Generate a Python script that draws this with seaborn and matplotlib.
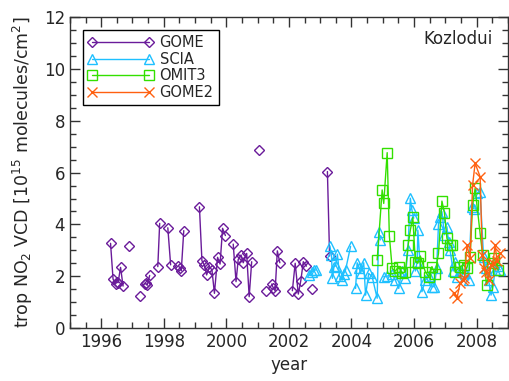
import numpy as np
import pandas as pd
import matplotlib
matplotlib.use("Agg")
import matplotlib.pyplot as plt
from matplotlib.lines import Line2D
from matplotlib.ticker import MultipleLocator
import seaborn as sns

# GOME (seg = connected piece of the line)
gome_year = [1996.30, 1996.38, 1996.46, 1996.50, 1996.54, 1996.62, 1996.70, 1996.89, 1997.23,
             1997.39, 1997.43, 1997.47, 1997.55, 1997.81, 1997.87, 1998.13, 1998.22,
             1998.47, 1998.52, 1998.56, 1998.64,
             1999.14, 1999.22, 1999.30, 1999.37, 1999.46, 1999.54, 1999.62, 1999.72, 1999.80, 1999.88, 1999.97,
             2000.22, 2000.31, 2000.38, 2000.47, 2000.54, 2000.65, 2000.73, 2000.81,
             2001.05, 2001.28, 2001.45, 2001.50, 2001.56, 2001.63, 2001.71,
             2002.11, 2002.20, 2002.30, 2002.38, 2002.46, 2002.56, 2002.73, 2003.23, 2003.30]
gome_vcd = [3.27, 1.89, 1.70, 1.78, 1.75, 2.34, 1.62, 3.17, 1.25,
            1.69, 1.72, 1.65, 2.03, 2.37, 4.04, 3.87, 2.44,
            2.41, 2.30, 2.21, 3.76,
            4.68, 2.60, 2.43, 2.05, 2.37, 2.24, 1.34, 2.73, 2.47, 3.85, 3.57,
            3.24, 1.79, 2.65, 2.82, 2.52, 2.88, 1.21, 2.56,
            6.87, 1.44, 1.70, 1.55, 1.44, 2.98, 2.52,
            1.44, 2.50, 1.31, 1.83, 2.56, 2.39, 1.49, 6.04, 2.78]
gome_seg = [1, 1, 1, 1, 1, 1, 1, 2, 3,
            4, 4, 4, 4, 5, 5, 6, 6,
            7, 7, 7, 7,
            8, 8, 8, 8, 8, 8, 8, 8, 8, 8, 8,
            9, 9, 9, 9, 9, 9, 9, 9,
            10, 11, 12, 12, 12, 12, 12,
            13, 13, 13, 13, 13, 13, 14, 15, 15]

# SCIA
scia_year = [2002.64, 2002.73, 2002.80, 2002.86,
             2003.31, 2003.36, 2003.39, 2003.44, 2003.49, 2003.55, 2003.62, 2003.70, 2003.75, 2003.81, 2003.97,
             2004.13, 2004.18, 2004.25, 2004.29, 2004.39, 2004.45, 2004.55, 2004.66, 2004.82, 2004.87, 2004.92,
             2005.03, 2005.14, 2005.30, 2005.40, 2005.51, 2005.60, 2005.72, 2005.80, 2005.88, 2005.93, 2005.99,
             2006.04, 2006.10, 2006.12, 2006.25, 2006.36, 2006.47, 2006.57, 2006.65, 2006.72, 2006.78, 2006.84,
             2006.89, 2006.97,
             2007.05, 2007.10, 2007.15, 2007.25, 2007.31, 2007.37, 2007.47, 2007.55, 2007.63, 2007.74, 2007.84,
             2007.92, 2008.00, 2008.11, 2008.22, 2008.30, 2008.38, 2008.46, 2008.52, 2008.59, 2008.67, 2008.75]
scia_vcd = [2.05, 2.17, 2.24, 2.24,
            3.17, 2.80, 1.92, 2.37, 2.40, 2.85, 2.00, 1.85, 2.10, 2.24, 3.15,
            1.53, 2.52, 2.30, 2.11, 2.52, 1.27, 2.11, 1.98, 1.15, 3.72, 3.40,
            1.98, 2.00, 2.10, 1.85, 1.53, 2.20, 1.92, 3.00, 5.01, 4.56, 4.24,
            2.20, 2.56, 3.78, 1.40, 1.85, 2.00, 1.60, 1.60, 2.30, 4.00, 4.30,
            4.49, 3.60,
            3.91, 3.33, 3.00, 2.20, 2.56, 1.98, 2.20, 2.30, 2.11, 1.85, 4.68,
            4.60, 5.20, 5.26, 2.75, 2.30, 1.85, 1.27, 1.60, 2.24, 2.40, 2.24]
scia_seg = [1, 1, 1, 1,
            2, 2, 2, 2, 2, 2, 2, 2, 2, 2, 2,
            3, 3, 3, 3, 3, 3, 3, 3, 3, 3, 3,
            4, 4, 4, 4, 4, 4, 4, 4, 4, 4, 4,
            5, 5, 5, 5, 5, 5, 5, 5, 5, 5, 5,
            5, 5,
            6, 6, 6, 6, 6, 6, 6, 6, 6, 6, 6,
            6, 7, 7, 7, 7, 7, 7, 7, 7, 7, 7]

# OMI T3
omi_year = [2004.82, 2004.98, 2005.03, 2005.14, 2005.21, 2005.30, 2005.40, 2005.51, 2005.62, 2005.72,
            2005.81, 2005.88, 2005.96, 2006.04, 2006.12, 2006.20, 2006.36, 2006.47, 2006.57, 2006.67,
            2006.78, 2006.89, 2006.97, 2007.05, 2007.15, 2007.20, 2007.31, 2007.47, 2007.58, 2007.68,
            2007.79, 2007.87, 2007.95, 2008.11, 2008.19, 2008.32, 2008.48, 2008.56, 2008.69]
omi_vcd = [2.63, 5.33, 4.81, 6.77, 3.55, 2.30, 2.20, 2.37, 2.11, 2.17,
           3.20, 3.78, 4.27, 2.56, 2.50, 2.78, 2.17, 1.98, 2.37, 2.10,
           2.88, 4.90, 4.45, 3.46, 3.20, 3.20, 2.17, 2.37, 2.43, 2.30,
           2.75, 4.75, 5.39, 3.65, 2.82, 1.66, 2.50, 2.69, 2.24]
omi_seg = [1] * len(omi_year)

# GOME-2
gome2_year = [2007.29, 2007.37, 2007.47, 2007.55, 2007.61, 2007.69, 2007.79, 2007.87, 2007.95, 2008.11,
              2008.18, 2008.24, 2008.29, 2008.38, 2008.46, 2008.52, 2008.59, 2008.65, 2008.75]
gome2_vcd = [1.34, 1.15, 1.73, 1.85, 1.92, 3.20, 2.69, 5.52, 6.36, 5.84,
             2.82, 2.30, 2.17, 1.85, 2.43, 2.50, 3.20, 2.60, 2.88]
gome2_seg = [1] * len(gome2_year)

names = ["GOME", "SCIA", "OMIT3", "GOME2"]
colors = ["#6a1b9a", "#1ec0ff", "#33e000", "#ff6010"]
markers = ["D", "^", "s", "x"]
msizes = [5.5, 7.5, 7, 7.5]

df = pd.concat([
    pd.DataFrame({"year": gome_year, "vcd": gome_vcd, "seg": gome_seg, "sensor": "GOME"}),
    pd.DataFrame({"year": scia_year, "vcd": scia_vcd, "seg": scia_seg, "sensor": "SCIA"}),
    pd.DataFrame({"year": omi_year, "vcd": omi_vcd, "seg": omi_seg, "sensor": "OMIT3"}),
    pd.DataFrame({"year": gome2_year, "vcd": gome2_vcd, "seg": gome2_seg, "sensor": "GOME2"}),
])

sns.set_style("ticks")
plt.rcParams["font.family"] = ["DejaVu Sans"]

fig = plt.figure(figsize=(5.1, 3.81), dpi=100)
ax = fig.add_axes([0.137, 0.139, 0.859, 0.816])

handles = []
for name, c, m, ms in zip(names, colors, markers, msizes):
    sub = df[df["sensor"] == name]
    sns.lineplot(data=sub, x="year", y="vcd", units="seg", estimator=None, sort=False,
                 color=c, marker=m, markersize=ms, markerfacecolor="none",
                 markeredgecolor=c, markeredgewidth=1.0, linewidth=1.0,
                 legend=False, ax=ax)
    handles.append(Line2D([], [], color=c, marker=m, markersize=ms, markerfacecolor="none",
                          markeredgecolor=c, markeredgewidth=1.0, linewidth=1.0, label=name))

ax.set_xlim(1995, 2009)
ax.set_ylim(0, 12)
ax.xaxis.set_major_locator(MultipleLocator(2))
ax.xaxis.set_minor_locator(MultipleLocator(0.5))
ax.yaxis.set_major_locator(MultipleLocator(2))
ax.yaxis.set_minor_locator(MultipleLocator(0.5))
ax.tick_params(which="both", direction="in", top=True, right=True, labelsize=12, color="#333333")
ax.tick_params(which="major", length=7, width=1)
ax.tick_params(which="minor", length=4, width=1)
for s in ax.spines.values():
    s.set_color("#333333")
    s.set_linewidth(1)

ax.set_xlabel("year", fontsize=12)
ax.set_ylabel("trop NO$_2$ VCD [10$^{15}$ molecules/cm$^2$]", fontsize=12.5, labelpad=6)
ax.text(0.965, 0.93, "Kozlodui", transform=ax.transAxes, ha="right", va="center", fontsize=12)

leg = ax.legend(handles=handles, loc="upper left", numpoints=2, handlelength=4.5,
                fontsize=10.5, frameon=True, fancybox=False, edgecolor="black",
                framealpha=1, borderaxespad=0.9, labelspacing=0.1, handletextpad=0.4,
                borderpad=0.35)
leg.get_frame().set_linewidth(1)

fig.savefig("out.png", dpi=100)
